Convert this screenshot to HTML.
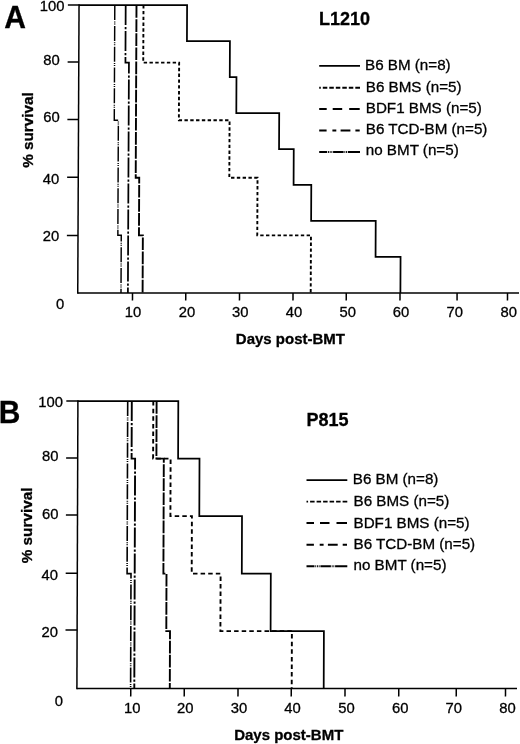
<!DOCTYPE html>
<html lang="en">
<head>
<meta charset="utf-8">
<title>Survival curves</title>
<style>html,body{margin:0;padding:0;background:#fff}body{width:520px;height:744px;overflow:hidden}</style>
</head>
<body>
<svg width="520" height="744" viewBox="0 0 520 744" style="display:block">
<rect width="520" height="744" fill="#fff"/>
<g fill="none" stroke="#000" stroke-width="1.5" stroke-linecap="butt" stroke-linejoin="miter">
<g transform="matrix(1 0 -0.00450 1 1.318 0)">
<path d="M77.75 4.35 V293.65"/>
<path d="M77.75 292.90 H519"/>
<path d="M66.60 5.10 H77.75"/>
<path d="M66.60 62.00 H77.75"/>
<path d="M66.60 119.60 H77.75"/>
<path d="M66.60 177.30 H77.75"/>
<path d="M66.60 235.40 H77.75"/>
<path d="M132.50 292.90 V300.40"/>
<path d="M185.75 292.90 V300.40"/>
<path d="M239.50 292.90 V300.40"/>
<path d="M293.00 292.90 V300.40"/>
<path d="M346.25 292.90 V300.40"/>
<path d="M400.00 292.90 V300.40"/>
<path d="M457.10 292.90 V300.40"/>
<path d="M507.50 292.90 V300.40"/>
<path d="M77.75 5.10 L185.80 5.10 L185.80 41.08 L228.80 41.08 L228.80 77.05 L235.50 77.05 L235.50 113.03 L278.40 113.03 L278.40 149.00 L293.10 149.00 L293.10 184.97 L310.80 184.97 L310.80 220.95 L375.40 220.95 L375.40 256.92 L400.40 256.92 L400.40 292.90" stroke-width="1.75"/>
<path d="M142.20 5.10 L142.20 62.66 L178.10 62.66 L178.10 120.22 L228.80 120.22 L228.80 177.78 L257.00 177.78 L257.00 235.34 L310.70 235.34 L310.70 292.90" stroke-dasharray="3.4 2.4" stroke-width="1.9"/>
<path d="M135.20 5.10 L135.20 177.78 L138.70 177.78 L138.70 235.34 L142.60 235.34 L142.60 292.90" stroke-dasharray="12.7 1.4" stroke-width="1.9"/>
<path d="M124.40 5.10 L124.40 62.66 L127.90 62.66 L127.90 292.90" stroke-dasharray="20 1.8 2.4 1.8" stroke-width="1.75"/>
<path d="M113.50 5.10 L113.50 120.22 L117.60 120.22 L117.60 235.34 L121.00 235.34 L121.00 292.90" stroke-dasharray="15 1.4 1 1 1 1.4" stroke-width="1.45"/>
</g>
<path d="M319.2 65.9 h40.8" stroke-width="1.7"/>
<path d="M319.2 87.7 h40.8" stroke-width="1.85" stroke-dasharray="1.6 2 4.5 2 4.5 2 4.5 2 4.5 2 4.5 2 4.5 0"/>
<path d="M319.2 109 h7.5 m6 0 h9.5 m7 0 h10.5" stroke-width="1.9"/>
<path d="M319.2 130.5 h7.4 m5.8 0 h3.9 m4.3 0 h9.8 m5 0 h4.3" stroke-width="1.9"/>
<path d="M319.2 152 h40.8" stroke-width="1.9" stroke-dasharray="8 0.8 0.9 0.8 0.9 0.8 0.9 0.8 10.5 0.8 0.9 0.8 0.9 0.8 14"/>
</g>
<g font-family="'Liberation Sans', Arial, Helvetica, sans-serif" fill="#000" stroke="#000" stroke-width="0.3">
<text transform="translate(4.2 27.6) scale(0.94 1)" font-size="32" font-weight="bold">A</text>
<text x="64.50" y="11.00" font-size="14.8" text-anchor="end">100</text>
<text x="59.75" y="65.00" font-size="14.8" text-anchor="end">80</text>
<text x="59.75" y="122.00" font-size="14.8" text-anchor="end">60</text>
<text x="59.25" y="183.60" font-size="14.8" text-anchor="end">40</text>
<text x="59.25" y="241.20" font-size="14.8" text-anchor="end">20</text>
<text x="64.25" y="309.30" font-size="14.8" text-anchor="end">0</text>
<text x="133.10" y="317.00" font-size="14.8" text-anchor="middle">10</text>
<text x="186.90" y="317.00" font-size="14.8" text-anchor="middle">20</text>
<text x="240.25" y="317.00" font-size="14.8" text-anchor="middle">30</text>
<text x="294.10" y="317.00" font-size="14.8" text-anchor="middle">40</text>
<text x="347.75" y="317.00" font-size="14.8" text-anchor="middle">50</text>
<text x="400.90" y="317.00" font-size="14.8" text-anchor="middle">60</text>
<text x="454.75" y="317.00" font-size="14.8" text-anchor="middle">70</text>
<text x="508.75" y="317.00" font-size="14.8" text-anchor="middle">80</text>
<text x="290.4" y="343.75" font-size="15" font-weight="bold" text-anchor="middle">Days post-BMT</text>
<text transform="translate(33.3 130) rotate(-90)" font-size="15.3" font-weight="bold" text-anchor="middle">% survival</text>
<text x="319" y="24.5" font-size="18" font-weight="bold">L1210</text>
<text x="365" y="70" font-size="15.2">B6 BM (n=8)</text>
<text x="365.75" y="92.4" font-size="15.2">B6 BMS (n=5)</text>
<text x="365.75" y="113" font-size="15.2">BDF1 BMS (n=5)</text>
<text x="365.75" y="133.75" font-size="15.2">B6 TCD-BM (n=5)</text>
<text x="365.75" y="155" font-size="15.2">no BMT (n=5)</text>
</g>
<g fill="none" stroke="#000" stroke-width="1.5" stroke-linecap="butt" stroke-linejoin="miter">
<g transform="matrix(1 0 -0.00350 1 2.410 0)">
<path d="M76.90 400.35 V689.35"/>
<path d="M76.90 688.60 H517"/>
<path d="M65.30 401.00 H76.90"/>
<path d="M65.30 458.00 H76.90"/>
<path d="M65.30 515.00 H76.90"/>
<path d="M65.30 573.25 H76.90"/>
<path d="M65.30 630.00 H76.90"/>
<path d="M130.75 688.60 V696.60"/>
<path d="M184.25 688.60 V696.60"/>
<path d="M238.00 688.60 V696.60"/>
<path d="M291.25 688.60 V696.60"/>
<path d="M345.00 688.60 V696.60"/>
<path d="M398.75 688.60 V696.60"/>
<path d="M456.25 688.60 V696.60"/>
<path d="M505.50 688.60 V696.60"/>
<path d="M76.90 401.10 L177.30 401.10 L177.30 458.60 L198.70 458.60 L198.70 516.10 L241.40 516.10 L241.40 573.60 L270.40 573.60 L270.40 631.10 L323.70 631.10 L323.70 688.60" stroke-width="1.75"/>
<path d="M152.30 401.10 L152.30 458.60 L169.80 458.60 L169.80 516.10 L191.30 516.10 L191.30 573.60 L220.20 573.60 L220.20 631.10 L291.70 631.10 L291.70 688.60" stroke-dasharray="4.5 3.1" stroke-width="1.9"/>
<path d="M155.60 401.10 L155.60 458.60 L163.00 458.60 L163.00 573.60 L166.10 573.60 L166.10 631.10 L169.80 631.10 L169.80 688.60" stroke-dasharray="12.7 1.4" stroke-width="1.9"/>
<path d="M130.80 401.10 L130.80 458.60 L134.30 458.60 L134.30 688.60" stroke-dasharray="20 1.8 2.4 1.8" stroke-width="1.9"/>
<path d="M126.70 401.10 L126.70 573.60 L130.60 573.60 L130.60 688.60" stroke-dasharray="15 1.4 1 1 1 1.4" stroke-width="1.6"/>
</g>
<path d="M306.5 480.1 h40.8" stroke-width="1.7"/>
<path d="M306.5 501.6 h40.8" stroke-width="1.85" stroke-dasharray="1.6 2 4.5 2 4.5 2 4.5 2 4.5 2 4.5 2 4.5 0"/>
<path d="M306.5 523 h7.5 m6 0 h9.5 m7 0 h10.5" stroke-width="1.9"/>
<path d="M306.5 544.8 h7.4 m5.8 0 h3.9 m4.3 0 h9.8 m5 0 h4.3" stroke-width="1.9"/>
<path d="M306.5 566.2 h40.8" stroke-width="1.9" stroke-dasharray="8 0.8 0.9 0.8 0.9 0.8 0.9 0.8 10.5 0.8 0.9 0.8 0.9 0.8 14"/>
</g>
<g font-family="'Liberation Sans', Arial, Helvetica, sans-serif" fill="#000" stroke="#000" stroke-width="0.3">
<text transform="translate(-1.2 422.8) scale(0.965 1)" font-size="31" font-weight="bold">B</text>
<text x="63.00" y="407.00" font-size="14.8" text-anchor="end">100</text>
<text x="58.50" y="461.20" font-size="14.8" text-anchor="end">80</text>
<text x="58.50" y="518.70" font-size="14.8" text-anchor="end">60</text>
<text x="58.00" y="579.50" font-size="14.8" text-anchor="end">40</text>
<text x="58.00" y="636.70" font-size="14.8" text-anchor="end">20</text>
<text x="63.00" y="705.60" font-size="14.8" text-anchor="end">0</text>
<text x="132.25" y="713.25" font-size="14.8" text-anchor="middle">10</text>
<text x="185.25" y="713.25" font-size="14.8" text-anchor="middle">20</text>
<text x="238.90" y="713.25" font-size="14.8" text-anchor="middle">30</text>
<text x="292.50" y="713.25" font-size="14.8" text-anchor="middle">40</text>
<text x="346.60" y="713.25" font-size="14.8" text-anchor="middle">50</text>
<text x="400.25" y="713.25" font-size="14.8" text-anchor="middle">60</text>
<text x="453.75" y="713.25" font-size="14.8" text-anchor="middle">70</text>
<text x="507.50" y="713.25" font-size="14.8" text-anchor="middle">80</text>
<text x="288.75" y="739.5" font-size="15" font-weight="bold" text-anchor="middle">Days post-BMT</text>
<text transform="translate(32.3 525.4) rotate(-90)" font-size="15.3" font-weight="bold" text-anchor="middle">% survival</text>
<text x="306.5" y="426.2" font-size="18" font-weight="bold">P815</text>
<text x="352.75" y="483.75" font-size="15.2">B6 BM (n=8)</text>
<text x="353.5" y="506.25" font-size="15.2">B6 BMS (n=5)</text>
<text x="353.5" y="527.5" font-size="15.2">BDF1 BMS (n=5)</text>
<text x="353.5" y="548.75" font-size="15.2">B6 TCD-BM (n=5)</text>
<text x="353.5" y="569.5" font-size="15.2">no BMT (n=5)</text>
</g>
</svg>
</body>
</html>
